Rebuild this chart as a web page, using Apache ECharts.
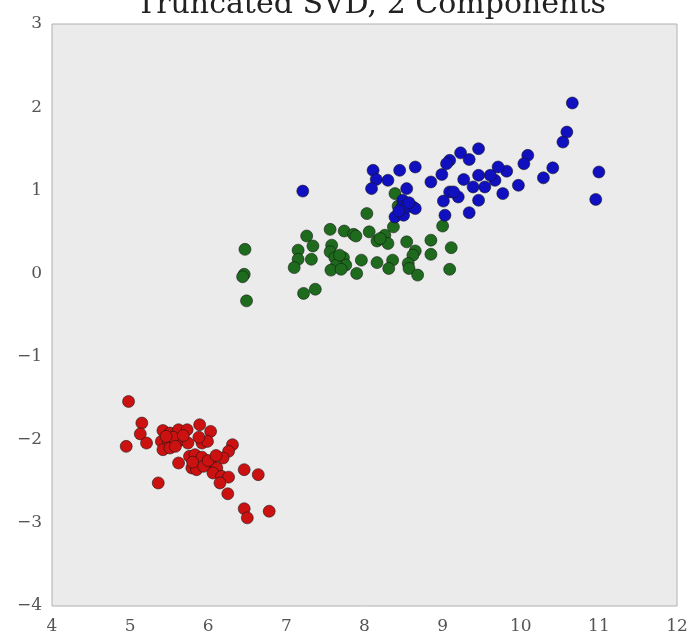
<!DOCTYPE html>
<html><head><meta charset="utf-8">
<script src="https://cdn.jsdelivr.net/npm/echarts@6/dist/echarts.min.js"></script>
<style>html,body{margin:0;padding:0;background:#fff}#c{width:691px;height:641px}</style>
</head><body><div id="c"></div>
<script>
const titleText = "Truncated SVD, 2 Components";
const xTicks = [4, 5, 6, 7, 8, 9, 10, 11, 12];
const yTicks = [-4, -3, -2, -1, 0, 1, 2, 3];

const blueX = [7.21,10.66,10.59,10.54,11.00,10.96,10.41,10.29,10.09,10.04,9.97,9.82,9.71,9.67,9.61,9.77,9.54,9.46,9.39,9.46,9.34,9.27,9.20,9.09,9.01,9.03,8.99,8.85,9.09,9.05,9.23,9.34,9.46,8.65,8.54,8.45,8.49,8.62,8.11,8.15,8.30,8.09,8.48,8.39,8.50,8.54,8.65,8.57,8.44,9.14];
const blueY = [0.99,2.05,1.70,1.58,1.22,0.89,1.27,1.15,1.42,1.32,1.06,1.23,1.28,1.12,1.18,0.96,1.04,1.18,1.04,0.88,0.73,1.13,0.92,0.98,0.87,0.70,1.19,1.10,1.36,1.32,1.45,1.37,1.50,1.28,1.02,1.24,0.88,0.80,1.24,1.13,1.12,1.02,0.80,0.68,0.70,0.80,0.78,0.85,0.75,0.98];

const greenX = [8.39,8.43,8.03,8.37,7.56,7.74,7.86,7.89,8.06,8.16,8.26,8.30,8.54,8.85,9.00,9.11,8.85,9.09,8.65,8.62,8.56,8.57,8.68,8.36,8.31,8.16,7.96,7.90,7.58,7.56,7.62,7.73,7.76,7.64,7.57,7.26,7.34,7.15,7.15,7.32,7.10,7.22,7.37,6.47,6.46,6.44,6.49,7.68,8.20,7.70];
const greenY = [0.96,0.81,0.72,0.56,0.53,0.51,0.47,0.45,0.50,0.39,0.46,0.36,0.38,0.40,0.57,0.31,0.23,0.05,0.27,0.22,0.12,0.06,-0.02,0.16,0.06,0.13,0.16,0.00,0.34,0.26,0.19,0.19,0.10,0.10,0.04,0.45,0.33,0.28,0.17,0.17,0.07,-0.24,-0.19,0.29,-0.01,-0.04,-0.33,0.22,0.42,0.05];

const redX = [4.98,5.15,5.13,4.95,5.21,5.42,5.51,5.62,5.73,5.89,6.03,5.40,5.49,5.63,5.74,5.92,5.99,5.42,5.51,6.31,6.26,6.19,5.76,5.83,5.92,5.62,6.04,6.11,5.79,5.85,5.94,6.06,6.17,6.26,6.15,6.46,6.64,5.36,6.25,6.46,6.78,6.50,5.55,5.68,5.80,6.00,5.58,6.10,5.46,5.88];
const redY = [-1.54,-1.80,-1.93,-2.08,-2.04,-1.89,-1.92,-1.88,-1.88,-1.82,-1.90,-2.02,-2.02,-2.01,-2.04,-2.04,-2.02,-2.12,-2.10,-2.06,-2.14,-2.22,-2.20,-2.18,-2.21,-2.28,-2.28,-2.34,-2.34,-2.36,-2.32,-2.40,-2.44,-2.45,-2.52,-2.36,-2.42,-2.52,-2.65,-2.83,-2.86,-2.94,-1.97,-1.95,-2.27,-2.25,-2.08,-2.19,-1.96,-1.97];

function pairs(xs, ys){ return xs.map((x,i)=>[x, ys[i]]); }

const chart = echarts.init(document.getElementById('c'), null, {renderer:'canvas'});
const font = "'DejaVu Serif', 'Liberation Serif', serif";
const mk = (name, color, xs, ys) => ({
  name, type:'scatter', data: pairs(xs, ys), symbolSize: 12,
  itemStyle:{color, borderColor:'rgba(20,20,20,0.7)', borderWidth:0.8, opacity:1},
  emphasis:{disabled:true}
});
chart.setOption({
  animation:false,
  backgroundColor:'#ffffff',
  title:{text:titleText, left:366, textAlign:'center', top:-15,
    textStyle:{fontFamily:font, fontWeight:'normal', fontSize:30, color:'#222'}},
  grid:{left:52, right:14, top:24, bottom:35, show:true, backgroundColor:'#ebebeb', borderColor:'#b0b0b0', borderWidth:1},
  xAxis:{type:'value', min:4, max:12, interval:1,
    axisLine:{show:false}, axisTick:{show:false}, splitLine:{show:false},
    axisLabel:{fontFamily:font, fontSize:17, color:'#555', margin:12,
      formatter:v=> xTicks.includes(v) ? String(v) : ''}},
  yAxis:{type:'value', min:-4, max:3, interval:1,
    axisLine:{show:false}, axisTick:{show:false}, splitLine:{show:false},
    axisLabel:{fontFamily:font, fontSize:17, color:'#555', margin:10,
      formatter:v=> yTicks.includes(v) ? (v<0 ? '\u2212'+Math.abs(v) : String(v)) : ''}},
  series:[ mk('red','#cc1111',redX,redY), mk('green','#1e6b1e',greenX,greenY), mk('blue','#1010c0',blueX,blueY) ]
});
</script></body></html>
